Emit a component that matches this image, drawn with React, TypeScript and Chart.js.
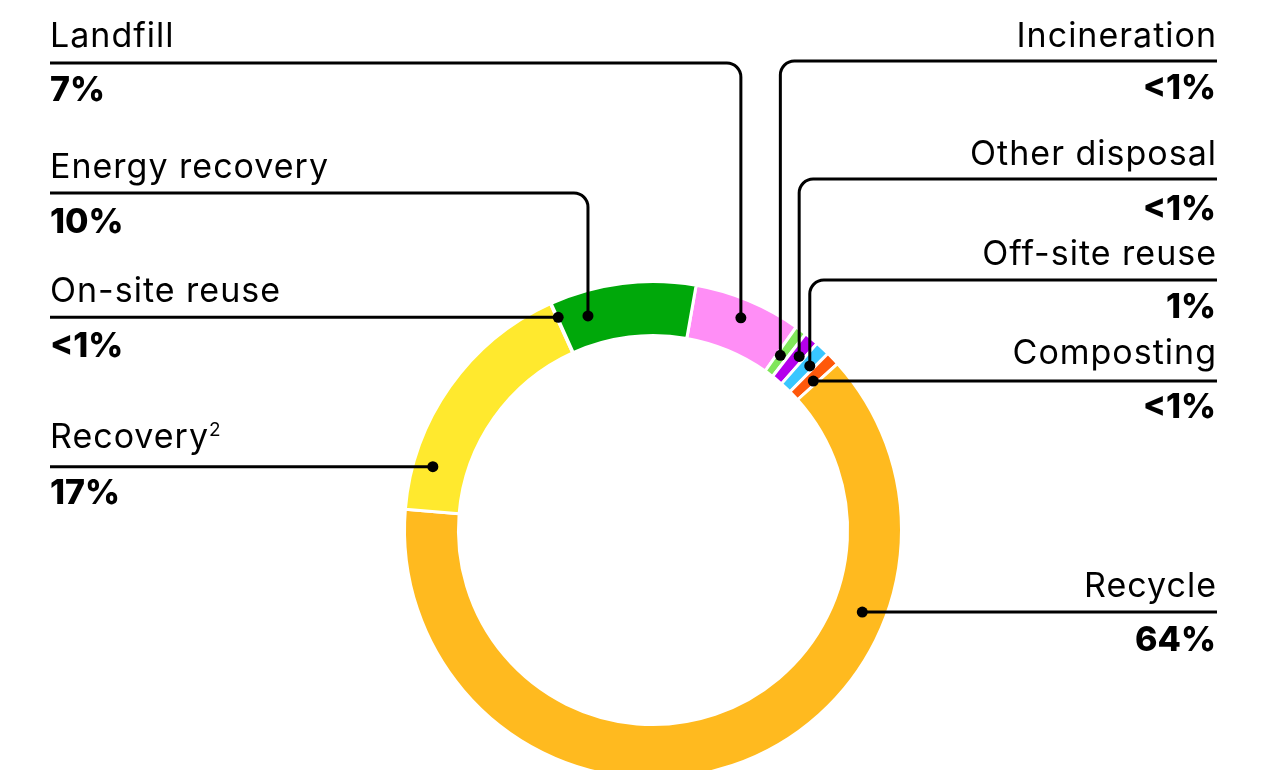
import React, { useEffect, useRef } from "react";
import { Chart, registerables } from "chart.js";

Chart.register(...registerables);

// Data (clockwise from the start of the Landfill slice)
const categories = [
  "Landfill",
  "Incineration",
  "Other disposal",
  "Off-site reuse",
  "Composting",
  "Recycle",
  "Recovery",
  "On-site reuse",
  "Energy recovery",
];
const values = [7.0, 0.75, 0.95, 0.95, 0.9, 63.0, 16.9, 0.05, 9.5];
const valueLabels = ["7%", "<1%", "<1%", "1%", "<1%", "64%", "17%", "<1%", "10%"];
const superscripts = ["", "", "", "", "", "", "2", "", ""];
const colors = [
  "#FF8EF6",
  "#80E65A",
  "#B400EC",
  "#38C6FF",
  "#FF580A",
  "#FFBA1F",
  "#FFE92E",
  "#FFE92E",
  "#00A80A",
];

// Annotation layout (style/placement only)
type Layout = {
  side: "left" | "right";
  nameY: number;
  valueY: number;
  lineY?: number; // for elbow leaders
  angle: number; // dot angle, degrees clockwise from top
  t: number; // dot position across ring thickness (0 inner .. 1 outer)
};
const layouts: Layout[] = [
  { side: "left", nameY: 47, valueY: 101, lineY: 63, angle: 22.5, t: 0.65 },
  { side: "right", nameY: 47, valueY: 99, lineY: 61, angle: 36.1, t: 0.4 },
  { side: "right", nameY: 165, valueY: 220, lineY: 179, angle: 40.1, t: 0.6 },
  { side: "right", nameY: 265, valueY: 318, lineY: 280, angle: 43.7, t: 0.6 },
  { side: "right", nameY: 364, valueY: 418, angle: 47.1, t: 0.45 },
  { side: "right", nameY: 597, valueY: 651, angle: 111.4, t: 0.56 },
  { side: "left", nameY: 448, valueY: 504, angle: 286.05, t: 0.64 },
  { side: "left", nameY: 302, valueY: 357, angle: 335.97, t: 0.71 },
  { side: "left", nameY: 178, valueY: 233, lineY: 193, angle: 343.1, t: 0.54 },
];

const FONT = "Inter, 'Noto Sans', sans-serif";
const NAME_SIZE = 34;
const VALUE_SIZE = 34;
const NAME_SPACING = "1px";
const LEFT_X = 50;
const RIGHT_X = 1217;

const leaderPlugin = {
  id: "leaders",
  afterDatasetsDraw(chart: any) {
    const ctx: any = chart.ctx;
    const meta = chart.getDatasetMeta(0);
    const el = meta.data[0];
    if (!el) return;
    const { x: cx, y: cy, innerRadius, outerRadius } = el.getProps(
      ["x", "y", "innerRadius", "outerRadius"],
      true
    );
    ctx.save();
    ctx.strokeStyle = "#000";
    ctx.fillStyle = "#000";
    ctx.lineWidth = 3;
    ctx.lineCap = "butt";
    const cr = 14;
    layouts.forEach((L, i) => {
      const a = (L.angle * Math.PI) / 180;
      const rr = innerRadius + L.t * (outerRadius - innerRadius);
      const dx = cx + rr * Math.sin(a);
      const dy = cy - rr * Math.cos(a);
      const edgeX = L.side === "left" ? LEFT_X : RIGHT_X;
      ctx.beginPath();
      if (L.lineY !== undefined) {
        const ly = L.lineY;
        ctx.moveTo(edgeX, ly);
        ctx.lineTo(L.side === "left" ? dx - cr : dx + cr, ly);
        ctx.arcTo(dx, ly, dx, ly + cr, cr);
        ctx.lineTo(dx, dy);
      } else {
        ctx.moveTo(edgeX, dy);
        ctx.lineTo(dx, dy);
      }
      ctx.stroke();
      ctx.beginPath();
      ctx.arc(dx, dy, 5.5, 0, Math.PI * 2);
      ctx.fill();

      // texts
      ctx.textBaseline = "alphabetic";
      const left = L.side === "left";
      ctx.textAlign = left ? "left" : "right";
      ctx.letterSpacing = NAME_SPACING;
      ctx.font = `400 ${NAME_SIZE}px ${FONT}`;
      const nx = left ? LEFT_X : RIGHT_X;
      ctx.fillText(categories[i], nx, L.nameY);
      if (superscripts[i]) {
        const w = ctx.measureText(categories[i]).width;
        ctx.font = `400 19px ${FONT}`;
        ctx.textAlign = "left";
        ctx.fillText(superscripts[i], nx + w, L.nameY - 12);
        ctx.textAlign = left ? "left" : "right";
      }
      ctx.letterSpacing = "0px";
      ctx.font = `800 ${VALUE_SIZE}px ${FONT}`;
      ctx.fillText(valueLabels[i], left ? LEFT_X : RIGHT_X - 1, L.valueY);
    });
    ctx.restore();
  },
};

export default function App() {
  const ref = useRef<HTMLCanvasElement | null>(null);
  useEffect(() => {
    if (!ref.current) return;
    const chart = new Chart(ref.current, {
      type: "doughnut",
      data: {
        labels: categories,
        datasets: [
          {
            data: values,
            backgroundColor: colors,
            borderColor: "#ffffff",
            borderWidth: 3,
            hoverOffset: 0,
          },
        ],
      },
      options: {
        responsive: false,
        animation: false,
        events: [],
        rotation: 10,
        radius: 248.5,
        cutout: "78.3%",
        layout: { padding: { left: 405, right: 385, top: 282, bottom: 22 } },
        plugins: {
          legend: { display: false },
          tooltip: { enabled: false },
        },
      },
      plugins: [leaderPlugin],
    });
    return () => chart.destroy();
  }, []);
  return (
    <div
      style={{
        position: "fixed",
        left: 0,
        top: 0,
        width: 1286,
        height: 770,
        overflow: "hidden",
        background: "#fff",
      }}
    >
      <canvas ref={ref} width={1286} height={800} style={{ display: "block" }} />
    </div>
  );
}
